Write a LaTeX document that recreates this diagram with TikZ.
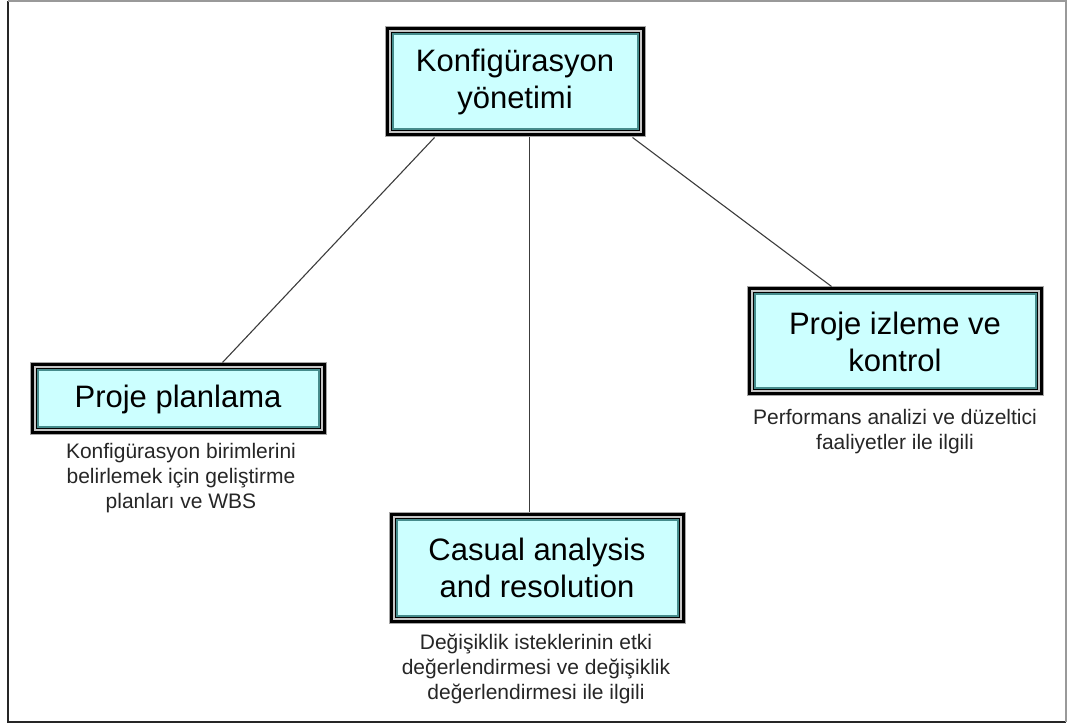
\documentclass[tikz,border=0pt]{standalone}
\usepackage{fontspec}
\setmainfont{Liberation Sans}
\usetikzlibrary{calc}
\definecolor{boxfill}{RGB}{204,255,255}
\definecolor{boxedge}{RGB}{70,140,140}
\definecolor{linkgray}{RGB}{60,60,60}
\tikzset{
  topicbox/.style={draw=gray!70, line width=1pt, fill=boxfill, inner sep=0pt,
    align=center, font=\fontsize{31}{37}\selectfont},
  note/.style={align=center, text=black!85, font=\fontsize{21}{25}\selectfont, inner sep=0pt},
  link/.style={draw=linkgray, line width=1.1pt}
}
% layered frame drawn inside a topic box
\newcommand{\layerframe}[1]{%
  \draw[black, line width=3pt] ([shift={(2.5,2.5)}]#1.south west) rectangle ([shift={(-2.5,-2.5)}]#1.north east);
  \draw[gray!45, line width=2pt] ([shift={(5,5)}]#1.south west) rectangle ([shift={(-5,-5)}]#1.north east);
  \draw[black, line width=1pt] ([shift={(6.5,6.5)}]#1.south west) rectangle ([shift={(-6.5,-6.5)}]#1.north east);
  \draw[boxedge, line width=2pt] ([shift={(8,8)}]#1.south west) rectangle ([shift={(-8,-8)}]#1.north east);
}
\begin{document}
\begin{tikzpicture}[x=1pt,y=1pt]
  \useasboundingbox (0,0) rectangle (1068,726);
  % page frame
  \draw[black!85, line width=1.6pt] (8,725) -- (8,4) -- (1066,4);
  \draw[gray!80, line width=1.6pt] (8,725) -- (1066,725) -- (1066,4);

  % topic boxes
  \node[topicbox, minimum width=260pt, minimum height=110pt] (cm) at (515,644) {Konfigürasyon\\yönetimi};
  \node[topicbox, minimum width=296pt, minimum height=72pt] (pp) at (178,327) {Proje planlama};
  \node[topicbox, minimum width=296pt, minimum height=110pt] (car) at (537,158) {Casual analysis\\and resolution};
  \node[topicbox, minimum width=296pt, minimum height=109pt] (pmc) at (895,384.5) {Proje izleme ve\\kontrol};
  \layerframe{cm}
  \layerframe{pp}
  \layerframe{car}
  \layerframe{pmc}

  % descriptions
  \node[note] (ppnote) at (181,248) {Konfigürasyon birimlerini\\belirlemek için geliştirme\\planları ve WBS};
  \node[note] (carnote) at (536,57) {Değişiklik isteklerinin etki\\değerlendirmesi ve değişiklik\\değerlendirmesi ile ilgili};
  \node[note] (pmcnote) at (895,294) {Performans analizi ve düzeltici\\faaliyetler ile ilgili};

  % connectors
  \draw[link] ([xshift=50pt]cm.south west) -- ([xshift=193pt]pp.north west);
  \draw[link] ([xshift=145pt]cm.south west) -- ([xshift=141pt]car.north west);
  \draw[link] ([xshift=248pt]cm.south west) -- ([xshift=85pt]pmc.north west);
\end{tikzpicture}
\end{document}
